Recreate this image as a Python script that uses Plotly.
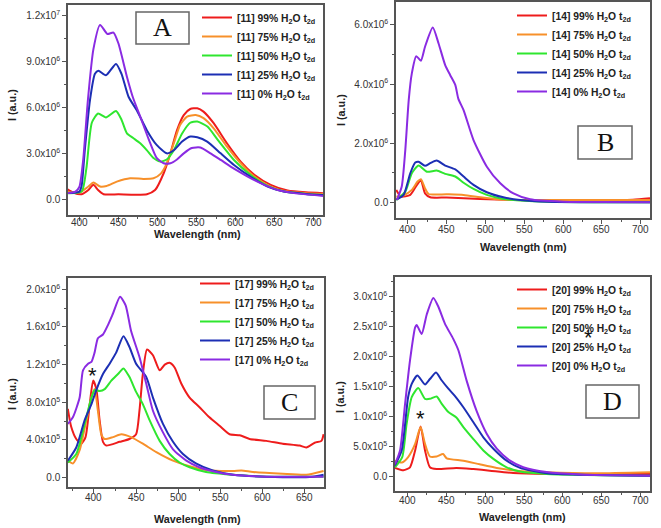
import plotly.graph_objects as go

W, H = 661, 528

# ---------------- DATA (intensity in units of 1e6 a.u.) ----------------
series_labels = ["99% H<sub>2</sub>O t<sub>2d</sub>", "75% H<sub>2</sub>O t<sub>2d</sub>",
                 "50% H<sub>2</sub>O t<sub>2d</sub>", "25% H<sub>2</sub>O t<sub>2d</sub>",
                 "0% H<sub>2</sub>O t<sub>2d</sub>"]
series_colors = ["#ee1c1c", "#f7902a", "#2fe62f", "#1c2fb4", "#8a2be2"]

# Panel A  [11]
a99_wl = [385, 392, 403, 411.6, 418, 424, 431, 450, 486.6, 497, 508, 516.6, 525, 533.7, 542, 551, 559, 572, 589, 606.6, 624, 645, 666.6, 690, 712]
a99_i = [0.65, 0.44, 0.33, 0.6, 0.94, 0.6, 0.33, 0.32, 0.33, 0.6, 1.7, 3.0, 4.5, 5.5, 5.9, 5.95, 5.73, 4.97, 3.66, 2.46, 1.6, 0.94, 0.57, 0.45, 0.4]
a75_wl = [385, 401, 411.6, 418, 426.6, 435, 448, 465, 482, 495, 504, 512, 521, 529, 538, 549, 559, 572, 589, 606.6, 624, 645, 666.6, 690, 712]
a75_i = [0.5, 0.45, 0.83, 1.09, 0.83, 0.87, 1.15, 1.37, 1.33, 1.37, 1.66, 2.35, 3.66, 4.86, 5.4, 5.5, 5.3, 4.64, 3.44, 2.35, 1.48, 0.83, 0.5, 0.4, 0.35]
a50_wl = [385, 403, 409, 416, 424, 434, 447, 454, 461, 469, 478, 486.6, 495, 504, 512, 521, 531.6, 542, 551, 564, 577, 598, 619, 641, 662, 690, 712]
a50_i = [0.4, 0.5, 2.0, 5.0, 5.6, 5.35, 5.77, 5.2, 4.3, 4.0, 3.66, 3.2, 2.7, 2.46, 2.6, 3.2, 4.3, 5.0, 5.08, 4.75, 3.9, 2.57, 1.6, 0.87, 0.5, 0.35, 0.28]
a25_wl = [385, 400, 403, 407, 413.7, 420, 424.4, 434, 447, 454, 463, 473.7, 486.6, 499, 512, 521, 531.6, 542, 551, 563.7, 581, 598, 619, 641, 662, 690, 712]
a25_i = [0.4, 0.5, 0.9, 3.2, 6.5, 8.2, 8.4, 8.1, 8.85, 8.2, 6.7, 5.8, 4.5, 3.55, 3.0, 3.2, 3.77, 4.1, 4.05, 3.77, 3.0, 2.24, 1.48, 0.83, 0.5, 0.35, 0.28]
a0_wl = [385, 395, 400, 405, 411, 418, 426.6, 436, 443.7, 450, 461, 469, 478, 489, 499, 508, 516.6, 525, 533.7, 544, 555, 568, 581, 598, 615, 632, 654, 675, 712]
a0_i = [0.4, 0.5, 0.8, 2.6, 6.5, 9.8, 11.4, 10.8, 10.9, 10.2, 8.0, 6.6, 5.4, 3.9, 2.7, 2.35, 2.35, 2.6, 3.0, 3.35, 3.38, 3.0, 2.57, 2.0, 1.5, 1.05, 0.6, 0.4, 0.22]

# Panel B  [14]
b99_wl = [385, 391, 403, 411.6, 416.7, 422, 428.8, 450, 493, 536, 600, 650, 690, 712]
b99_i = [0.43, 0.2, 0.26, 0.6, 0.76, 0.31, 0.18, 0.17, 0.12, 0.09, 0.07, 0.07, 0.1, 0.15]
b75_wl = [385, 394, 405, 412.4, 416.7, 422, 426.6, 450, 471.7, 493, 514.6, 540, 600, 712]
b75_i = [0.2, 0.24, 0.43, 0.71, 0.79, 0.48, 0.29, 0.28, 0.26, 0.18, 0.11, 0.09, 0.09, 0.09]
b50_wl = [385, 396.6, 405, 413.7, 424.5, 437, 448, 461, 471.7, 484.5, 501.7, 523, 545, 580, 712]
b50_i = [0.09, 0.37, 0.99, 1.25, 1.04, 1.08, 0.97, 0.88, 0.67, 0.46, 0.26, 0.12, 0.07, 0.03, 0.01]
b25_wl = [385, 394.4, 403, 409.4, 413.7, 422, 428.8, 437, 448, 461, 471.7, 484.5, 501.7, 523, 544.6, 580, 712]
b25_i = [0.1, 0.26, 0.99, 1.35, 1.38, 1.24, 1.33, 1.42, 1.25, 1.12, 0.88, 0.6, 0.35, 0.18, 0.09, 0.03, 0.01]
b0_wl = [385.8, 392, 396.6, 401, 405, 410.7, 416.7, 422, 432, 439.5, 448, 454.5, 461, 465, 471.7, 484.5, 501.7, 519, 536, 557.5, 600, 650, 712]
b0_i = [0.09, 0.54, 1.78, 3.46, 4.36, 4.94, 4.79, 5.26, 5.91, 5.37, 4.64, 4.3, 3.97, 3.5, 3.12, 2.11, 1.21, 0.65, 0.31, 0.11, 0.03, 0.02, 0.01]

# Panel C  [17]
c99_wl = [369, 373, 379, 385, 390, 395, 399, 402.8, 406.7, 410.7, 414.6, 430.5, 442, 450, 454, 458, 463, 470, 478, 484, 489.8, 495.7, 503.6, 513.5, 525, 537, 549, 561, 573, 584.7, 604.5, 624, 644, 652, 662, 670, 672.5]
c99_i = [0.73, 0.54, 0.41, 0.36, 0.43, 0.78, 1.03, 0.94, 0.61, 0.38, 0.34, 0.38, 0.41, 0.46, 0.71, 1.1, 1.36, 1.3, 1.14, 1.2, 1.22, 1.17, 1.0, 0.85, 0.75, 0.64, 0.55, 0.46, 0.45, 0.41, 0.39, 0.36, 0.34, 0.32, 0.37, 0.39, 0.46]
c75_wl = [369, 375, 383, 391, 397, 400.8, 404.7, 408.7, 412.7, 422.5, 432.4, 444, 458, 474, 493.8, 513.5, 533, 565, 575, 588.7, 624, 652, 672.5]
c75_i = [0.18, 0.15, 0.29, 0.61, 0.85, 0.94, 0.71, 0.46, 0.41, 0.43, 0.46, 0.43, 0.36, 0.27, 0.18, 0.12, 0.08, 0.07, 0.075, 0.06, 0.04, 0.03, 0.07]
c50_wl = [369, 379, 389, 397, 400.8, 406.7, 412.7, 420.6, 428.5, 435, 442, 450, 458, 466, 478, 489.8, 501.6, 513.5, 533, 565, 604.5, 672.5]
c50_i = [0.16, 0.25, 0.57, 0.85, 0.93, 0.92, 0.94, 1.03, 1.1, 1.16, 1.07, 0.91, 0.78, 0.61, 0.39, 0.25, 0.16, 0.11, 0.06, 0.03, 0.01, 0.01]
c25_wl = [369, 379, 389, 397, 402.8, 410.7, 418.6, 426.5, 435, 442, 450, 462, 470, 481.9, 493.8, 505.6, 521, 541, 565, 604.5, 660, 672.5]
c25_i = [0.18, 0.32, 0.61, 0.78, 0.93, 1.1, 1.21, 1.33, 1.5, 1.39, 1.21, 1.07, 0.85, 0.57, 0.38, 0.25, 0.15, 0.075, 0.03, 0.01, 0.01, 0.03]
c0_wl = [369, 375, 383, 387, 393, 397, 400.8, 404.7, 410.7, 416.6, 422.5, 431, 437.6, 444, 454, 462, 470, 481.9, 493.8, 509.6, 525, 545, 565, 604.5, 672.5]
c0_i = [0.57, 0.64, 0.85, 1.14, 1.21, 1.23, 1.33, 1.48, 1.52, 1.62, 1.74, 1.92, 1.83, 1.56, 1.28, 1.0, 0.71, 0.48, 0.3, 0.18, 0.11, 0.06, 0.03, 0.01, 0.01]

# Panel D  [20]
d99_wl = [384, 395, 403.4, 410, 417, 422.7, 429, 437.7, 463, 485, 506, 536, 579, 712]
d99_i = [0.14, 0.1, 0.15, 0.43, 0.83, 0.43, 0.15, 0.12, 0.14, 0.12, 0.094, 0.055, 0.04, 0.04]
d75_wl = [384, 393, 401, 410, 417, 422.7, 429, 437.7, 446, 450.6, 472, 493, 515, 540.6, 579, 643, 712]
d75_i = [0.26, 0.23, 0.32, 0.54, 0.82, 0.54, 0.33, 0.33, 0.37, 0.3, 0.26, 0.2, 0.14, 0.094, 0.067, 0.05, 0.067]
d50_wl = [384, 393.4, 399, 405.6, 414, 422.7, 429, 437.7, 444, 452.7, 463, 472, 484.9, 497.7, 510.6, 527.7, 544.9, 579, 712]
d50_i = [0.15, 0.32, 0.87, 1.32, 1.47, 1.29, 1.29, 1.33, 1.21, 1.07, 0.98, 0.82, 0.62, 0.43, 0.29, 0.15, 0.08, 0.04, 0.01]
d25_wl = [384, 392.7, 401, 405.6, 412.9, 422.7, 429, 436.9, 444, 452.7, 461, 472, 484.9, 497.7, 510.6, 527.7, 544.9, 579, 712]
d25_i = [0.18, 0.43, 1.32, 1.54, 1.68, 1.53, 1.62, 1.73, 1.6, 1.46, 1.34, 1.15, 0.9, 0.65, 0.46, 0.26, 0.14, 0.05, 0.01]
d0_wl = [384, 390.6, 397, 403.4, 410, 412, 418.4, 425, 433.4, 440, 448.4, 459, 465.6, 476.3, 489, 502, 515, 532, 549, 579, 622, 712]
d0_i = [0.2, 0.43, 1.2, 1.93, 2.48, 2.52, 2.37, 2.7, 2.97, 2.82, 2.54, 2.29, 2.1, 1.59, 1.09, 0.71, 0.46, 0.26, 0.15, 0.07, 0.03, 0.01]

# tick labels
wide_xticks = [400, 450, 500, 550, 600, 650, 700]
c_xticks = [400, 450, 500, 550, 600, 650]
a_yticks = [0, 3e6, 6e6, 9e6, 1.2e7]
a_ytext = ["0.0", "3.0x10<sup>6</sup>", "6.0x10<sup>6</sup>", "9.0x10<sup>6</sup>", "1.2x10<sup>7</sup>"]
b_yticks = [0, 2e6, 4e6, 6e6]
b_ytext = ["0.0", "2.0x10<sup>6</sup>", "4.0x10<sup>6</sup>", "6.0x10<sup>6</sup>"]
c_yticks = [0, 4e5, 8e5, 1.2e6, 1.6e6, 2.0e6]
c_ytext = ["0.0", "4.0x10<sup>5</sup>", "8.0x10<sup>5</sup>", "1.2x10<sup>6</sup>", "1.6x10<sup>6</sup>", "2.0x10<sup>6</sup>"]
d_yticks = [0, 5e5, 1e6, 1.5e6, 2e6, 2.5e6, 3e6]
d_ytext = ["0.0", "5.0x10<sup>5</sup>", "1.0x10<sup>6</sup>", "1.5x10<sup>6</sup>", "2.0x10<sup>6</sup>", "2.5x10<sup>6</sup>", "3.0x10<sup>6</sup>"]

SCALE = 1e6

# ---------------- LAYOUT HELPERS ----------------
def px_x(p):
    return p / W

def px_y(p):
    return 1 - p / H

FONT = "Arial, Liberation Sans, sans-serif"
TICKFONT = dict(family=FONT, size=10, color="#333333")
TITLEFONT = dict(family=FONT, size=10.8, color="#222222", weight="bold")

panels = [
    dict(tag="11", ax="", xpx=(68, 323), ypx=(5, 215), xr=[385.5, 712], yr=[-1.03e6, 1.27e7],
         xt=wide_xticks, xlaby=222.5,
         yt=a_yticks, ytt=a_ytext, xdt=50, ymin=1.5e6, leg="legend", legpos=(197, 3), letter="A",
         box=(136, 12, 189, 44),
         data=[(a99_wl, a99_i), (a75_wl, a75_i), (a50_wl, a50_i), (a25_wl, a25_i), (a0_wl, a0_i)],
         ylab=(12, 105), xlab=(197, 234)),
    dict(tag="14", ax="2", xpx=(396, 650), ypx=(2, 218), xr=[384.6, 712], yr=[-0.52e6, 6.77e6],
         xt=wide_xticks, xlaby=229.5,
         yt=b_yticks, ytt=b_ytext, xdt=50, ymin=1e6, leg="legend2", legpos=(512, 1), letter="B",
         box=(578, 126, 632, 159),
         data=[(b99_wl, b99_i), (b75_wl, b75_i), (b50_wl, b50_i), (b25_wl, b25_i), (b0_wl, b0_i)],
         ylab=(341, 110), xlab=(523, 247)),
    dict(tag="17", ax="3", xpx=(68, 324), ypx=(278, 487), xr=[369.2, 673], yr=[-0.1e6, 2.12e6],
         xt=c_xticks, xlaby=497.5,
         yt=c_yticks, ytt=c_ytext, xdt=50, ymin=2e5, leg="legend3", legpos=(195, 269), letter="C",
         box=(264, 386, 315, 419),
         data=[(c99_wl, c99_i), (c75_wl, c75_i), (c50_wl, c50_i), (c25_wl, c25_i), (c0_wl, c0_i)],
         ylab=(12, 394), xlab=(197, 519)),
    dict(tag="20", ax="4", xpx=(395, 650), ypx=(277, 491), xr=[384.1, 712], yr=[-0.245e6, 3.32e6],
         xt=wide_xticks, xlaby=500.5,
         yt=d_yticks, ytt=d_ytext, xdt=50, ymin=2.5e5, leg="legend4", legpos=(512, 275), letter="D",
         box=(586, 385, 639, 418),
         data=[(d99_wl, d99_i), (d75_wl, d75_i), (d50_wl, d50_i), (d25_wl, d25_i), (d0_wl, d0_i)],
         ylab=(340, 397), xlab=(522, 517)),
]

fig = go.Figure()
layout = dict(width=W, height=H, margin=dict(l=0, r=0, t=0, b=0),
              paper_bgcolor="white", plot_bgcolor="white",
              font=dict(family=FONT, size=11, color="#333333"))
shapes = []
annotations = []

AXCOL = "#555555"

for p in panels:
    xa = "x" + p["ax"]
    ya = "y" + p["ax"]
    for (wl, iv), lab, col in zip(p["data"], series_labels, series_colors):
        fig.add_trace(go.Scatter(
            x=wl, y=[v * SCALE for v in iv], mode="lines",
            line=dict(color=col, width=2, shape="spline", smoothing=0.6),
            name="[%s] %s" % (p["tag"], lab),
            xaxis=xa, yaxis=ya, legend=p["leg"]))
    xkey = "xaxis" + p["ax"]
    ykey = "yaxis" + p["ax"]
    layout[xkey] = dict(
        domain=[px_x(p["xpx"][0]), px_x(p["xpx"][1])], anchor=ya,
        range=p["xr"], tickvals=p["xt"], ticks="outside", ticklen=4, showticklabels=False,
        tickcolor=AXCOL, tickwidth=1.2, showline=True, linecolor=AXCOL, linewidth=1.5,
        mirror=True, showgrid=False, zeroline=False,
        minor=dict(dtick=p["xdt"] / 2, tick0=400, ticks="outside", ticklen=2.5, tickcolor=AXCOL))
    layout[ykey] = dict(
        domain=[px_y(p["ypx"][1]), px_y(p["ypx"][0])], anchor=xa,
        range=p["yr"], tickvals=p["yt"], ticktext=p["ytt"], ticks="outside", ticklen=4,
        tickcolor=AXCOL, tickwidth=1.2, showline=True, linecolor=AXCOL, linewidth=1.5,
        mirror=True, showgrid=False, zeroline=False,
        tickfont=TICKFONT,
        minor=dict(dtick=p["ymin"], tick0=0, ticks="outside", ticklen=2.5, tickcolor=AXCOL))
    # x tick labels placed close to the axis, positioned by the x scale
    for v in p["xt"]:
        annotations.append(dict(text=str(v), xref=xa, yref="paper", x=v, y=px_y(p["xlaby"]),
                                showarrow=False, xanchor="center", yanchor="middle",
                                font=TICKFONT))
    layout[p["leg"]] = dict(
        x=px_x(p["legpos"][0]), y=px_y(p["legpos"][1]), xanchor="left", yanchor="top",
        bgcolor="rgba(0,0,0,0)", borderwidth=0,
        font=dict(family=FONT, size=10.3, color="#222222", weight="bold"),
        tracegroupgap=0, itemwidth=30)
    # letter box
    x0, y0, x1, y1 = p["box"]
    shapes.append(dict(type="rect", xref="paper", yref="paper",
                       x0=px_x(x0), x1=px_x(x1), y0=px_y(y1), y1=px_y(y0),
                       line=dict(color="#666666", width=1.5), fillcolor="white"))
    annotations.append(dict(text=p["letter"], xref="paper", yref="paper",
                            x=px_x((x0 + x1) / 2), y=px_y((y0 + y1) / 2),
                            showarrow=False, xanchor="center", yanchor="middle",
                            font=dict(family="Liberation Serif, Times New Roman, serif", size=26, color="#111111")))
    # axis titles
    annotations.append(dict(text="I (a.u.)", xref="paper", yref="paper",
                            x=px_x(p["ylab"][0]), y=px_y(p["ylab"][1]), textangle=-90,
                            showarrow=False, xanchor="center", yanchor="middle",
                            font=TITLEFONT))
    annotations.append(dict(text="Wavelength (nm)", xref="paper", yref="paper",
                            x=px_x(p["xlab"][0]), y=px_y(p["xlab"][1]),
                            showarrow=False, xanchor="center", yanchor="middle",
                            font=TITLEFONT))

# asterisk markers
star_font = dict(family=FONT, size=22, color="#111111")
annotations.append(dict(text="*", xref="x3", yref="y3", x=398, y=1.08e6, showarrow=False, font=star_font))
annotations.append(dict(text="*", xref="x4", yref="y4", x=417, y=0.96e6, showarrow=False, font=star_font))
annotations.append(dict(text="*", xref="x4", yref="y4", x=633, y=2.32e6, showarrow=False, font=star_font))

layout["shapes"] = shapes
layout["annotations"] = annotations
layout["showlegend"] = True
fig.update_layout(**layout)

fig.write_html("out.html", config={"displayModeBar": False},
               post_script="document.body.style.margin='0';document.body.style.overflow='hidden';")
